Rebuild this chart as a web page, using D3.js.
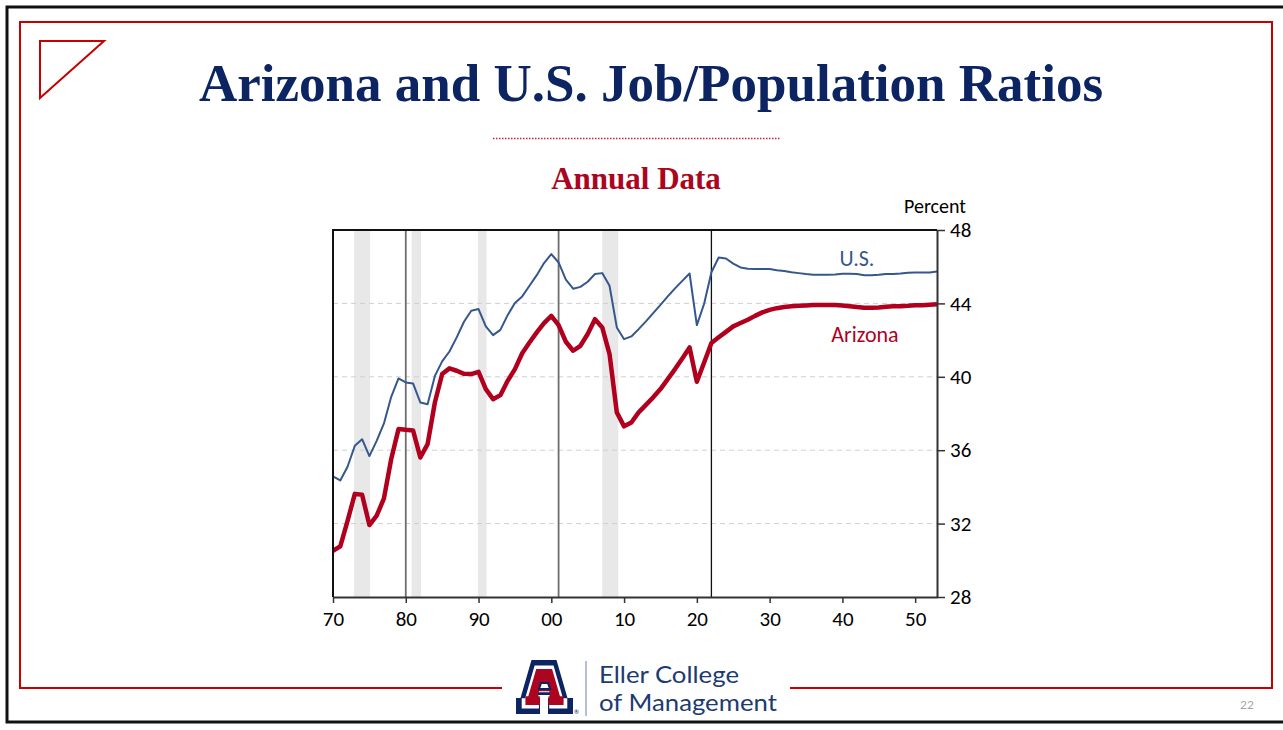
<!DOCTYPE html>
<html>
<head>
<meta charset="utf-8">
<script src="https://cdn.jsdelivr.net/npm/d3@7"></script>
<style>
  body { margin: 0; background: #fff; }
  svg { display: block; }
  .tick text { font-family: Carlito, Lato, sans-serif; font-size: 21px; fill: #000; }
</style>
</head>
<body>
<div id="chart"></div>
<script>
// Years on the x axis (annual data, history + forecast)
const years = d3.range(1970, 2054);

// Employment / population ratio, percent
const usValues = [
  34.57, 34.35, 35.10, 36.24, 36.60, 35.68, 36.51, 37.46, 38.91, 39.91,
  39.69, 39.64, 38.60, 38.50, 40.05, 40.84, 41.38, 42.15, 43.00, 43.60,
  43.69, 42.75, 42.27, 42.56, 43.36, 44.02, 44.38, 44.96, 45.54, 46.20,
  46.69, 46.23, 45.29, 44.80, 44.90, 45.18, 45.60, 45.65, 44.96, 42.69,
  42.05, 42.20, 42.60, 43.02, 43.47, 43.92, 44.38, 44.82, 45.23, 45.63,
  42.82, 43.98, 45.70, 46.50, 46.45, 46.17, 45.96, 45.89, 45.87, 45.87,
  45.87, 45.81, 45.76, 45.70, 45.65, 45.60, 45.56, 45.56, 45.56, 45.58,
  45.62, 45.62, 45.60, 45.54, 45.54, 45.56, 45.60, 45.60, 45.63, 45.67,
  45.69, 45.69, 45.69, 45.74
];

const azValues = [
  30.52, 30.76, 32.15, 33.62, 33.57, 31.92, 32.43, 33.37, 35.52, 37.15,
  37.11, 37.08, 35.60, 36.33, 38.60, 40.15, 40.46, 40.33, 40.16, 40.15,
  40.27, 39.33, 38.78, 39.00, 39.78, 40.42, 41.28, 41.87, 42.42, 42.93,
  43.32, 42.82, 41.91, 41.42, 41.69, 42.33, 43.14, 42.69, 41.24, 38.06,
  37.30, 37.51, 38.06, 38.47, 38.88, 39.33, 39.87, 40.42, 41.00, 41.60,
  39.73, 40.78, 41.84, 42.15, 42.45, 42.75, 42.93, 43.11, 43.32, 43.51,
  43.65, 43.74, 43.80, 43.84, 43.87, 43.89, 43.91, 43.91, 43.91, 43.91,
  43.89, 43.85, 43.80, 43.76, 43.76, 43.78, 43.82, 43.84, 43.85, 43.87,
  43.90, 43.90, 43.93, 43.95
];

// Recession shading (start, end in fractional years)
const recessions = [[1972.9, 1975.1], [1980.8, 1982.1], [1989.9, 1991.1], [2007.0, 2009.2]];

// Vertical marker lines
const markerYears = [1980, 2001, 2022];

// Tick labels
const xTicks = [1970, 1980, 1990, 2000, 2010, 2020, 2030, 2040, 2050];
const yTicks = [28, 32, 36, 40, 44, 48];
const gridValues = [32, 36, 40, 44];

const width = 1283, height = 730;
const navy = "#0C2461";
const crimson = "#AB0520";
const frameRed = "#C80000";

const svg = d3.select("#chart")
  .append("svg")
  .attr("width", width)
  .attr("height", height);

// Slide borders
svg.append("path")
  .attr("d", "M1295,7 L7,7 L7,722 L1295,722")
  .attr("fill", "none")
  .attr("stroke", "#111")
  .attr("stroke-width", 3);

svg.append("path")
  .attr("d", "M502,688 L20,688 L20,22 L1272,22 L1272,688 L790,688")
  .attr("fill", "none")
  .attr("stroke", frameRed)
  .attr("stroke-width", 2);

// Corner triangle
svg.append("path")
  .attr("d", "M40,41 L104,41 L40,98 Z")
  .attr("fill", "none")
  .attr("stroke", frameRed)
  .attr("stroke-width", 2);

// Title
svg.append("text")
  .attr("x", 651)
  .attr("y", 101)
  .attr("text-anchor", "middle")
  .style("font-family", "'Liberation Serif', 'Times New Roman', serif")
  .style("font-weight", "bold")
  .style("font-size", "53px")
  .attr("fill", navy)
  .text("Arizona and U.S. Job/Population Ratios");

// Dotted separator
svg.append("line")
  .attr("x1", 493).attr("x2", 780)
  .attr("y1", 138.5).attr("y2", 138.5)
  .attr("stroke", "#D0203A")
  .attr("stroke-width", 1.5)
  .attr("stroke-dasharray", "1.5,1.5");

svg.append("text")
  .attr("x", 636)
  .attr("y", 189)
  .attr("text-anchor", "middle")
  .style("font-family", "'Liberation Serif', 'Times New Roman', serif")
  .style("font-weight", "bold")
  .style("font-size", "31px")
  .attr("fill", crimson)
  .text("Annual Data");

// Scales
let xScale = d3.scaleLinear().domain([1970, 2053]).range([333, 937]);
let yScale = d3.scaleLinear().domain([28, 48]).range([597, 230]);

// Recession bands
svg.selectAll(".band")
  .data(recessions)
  .enter().append("rect")
  .attr("class", "band")
  .attr("x", d => xScale(d[0]))
  .attr("width", d => xScale(d[1]) - xScale(d[0]))
  .attr("y", yScale(48))
  .attr("height", yScale(28) - yScale(48))
  .attr("fill", "#E8E8E8");

// Horizontal gridlines
svg.selectAll(".grid")
  .data(gridValues)
  .enter().append("line")
  .attr("class", "grid")
  .attr("x1", xScale(1970)).attr("x2", xScale(2053))
  .attr("y1", d => yScale(d)).attr("y2", d => yScale(d))
  .attr("stroke", "#CFCFCF")
  .attr("stroke-width", 1)
  .attr("stroke-dasharray", "5,4");

// Vertical marker lines
svg.selectAll(".marker")
  .data(markerYears)
  .enter().append("line")
  .attr("class", "marker")
  .attr("x1", d => xScale(d)).attr("x2", d => xScale(d))
  .attr("y1", yScale(48)).attr("y2", yScale(28))
  .attr("stroke", (d, i) => i < 2 ? "#6E6E6E" : "#111")
  .attr("stroke-width", (d, i) => i < 2 ? 1.8 : 1.3);

// Lines
let line = d3.line()
  .x((d, i) => xScale(years[i]))
  .y(d => yScale(d));

svg.append("path")
  .datum(usValues)
  .attr("d", line)
  .attr("fill", "none")
  .attr("stroke", "#36578C")
  .attr("stroke-width", 2)
  .attr("stroke-linejoin", "round");

svg.append("path")
  .datum(azValues)
  .attr("d", line)
  .attr("fill", "none")
  .attr("stroke", "#B0001E")
  .attr("stroke-width", 4.5)
  .attr("stroke-linejoin", "round");

// Frame: left and top edges
svg.append("path")
  .attr("d", `M${xScale(1970)},${yScale(28)} L${xScale(1970)},${yScale(48)} L${xScale(2053)},${yScale(48)}`)
  .attr("fill", "none")
  .attr("stroke", "#111")
  .attr("stroke-width", 2);

// Right axis
let yAxis = svg.append("g")
  .attr("transform", `translate(${xScale(2053)},0)`)
  .call(d3.axisRight(yScale).tickValues(yTicks).tickSize(8).tickPadding(5).tickSizeOuter(0));
yAxis.select(".domain").attr("stroke", "#333").attr("stroke-width", 2);
yAxis.selectAll(".tick line").attr("stroke", "#333").attr("stroke-width", 1.5);

// Bottom axis
let xAxis = svg.append("g")
  .attr("transform", `translate(0,${yScale(28)})`)
  .call(d3.axisBottom(xScale).tickValues(xTicks).tickSize(6).tickPadding(8).tickSizeOuter(0)
    .tickFormat(d => String(d % 100).padStart(2, "0")));
xAxis.select(".domain").attr("stroke", "#333").attr("stroke-width", 2);
xAxis.selectAll(".tick line").attr("stroke", "#333").attr("stroke-width", 1.5);

// Unit label
svg.append("text")
  .attr("x", 966)
  .attr("y", 213)
  .attr("text-anchor", "end")
  .style("font-family", "Carlito, Lato, sans-serif")
  .style("font-size", "20px")
  .attr("fill", "#000")
  .text("Percent");

// Series labels
svg.append("text")
  .attr("x", xScale(2042))
  .attr("y", yScale(46.04))
  .attr("text-anchor", "middle")
  .style("font-family", "Carlito, Lato, sans-serif")
  .style("font-size", "22px")
  .attr("fill", "#36578C")
  .text("U.S.");

svg.append("text")
  .attr("x", xScale(2043.1))
  .attr("y", yScale(41.9))
  .attr("text-anchor", "middle")
  .style("font-family", "Carlito, Lato, sans-serif")
  .style("font-size", "22px")
  .attr("fill", "#B0001E")
  .text("Arizona");

// Logo: block A
const logo = svg.append("g").attr("transform", "translate(518,662)");
const aShape = "M15,0 L37,0 L48,38 L53,38 L53,50 L32,50 L32,38 L35,38 L33,31 L19,31 L17,38 L20,38 L20,50 L0,50 L0,38 L4,38 Z";
logo.append("path").attr("d", aShape)
  .attr("fill", navy).attr("stroke", navy).attr("stroke-width", 4).attr("stroke-linejoin", "miter");
logo.append("path").attr("d", aShape)
  .attr("fill", "#fff").attr("transform", "translate(26.5,25) scale(0.86) translate(-26.5,-25)");
logo.append("path").attr("d", aShape)
  .attr("fill", crimson).attr("transform", "translate(26.5,25) scale(0.72) translate(-26.5,-25)");
logo.append("path")
  .attr("d", "M23,21 L30,21 L32,27 L21,27 Z")
  .attr("fill", "#fff").attr("stroke", navy).attr("stroke-width", 2);
logo.append("text")
  .attr("x", 56).attr("y", 52)
  .style("font-family", "Lato, sans-serif")
  .style("font-size", "6px")
  .attr("fill", navy)
  .text("®");

svg.append("line")
  .attr("x1", 586).attr("x2", 586)
  .attr("y1", 661).attr("y2", 716)
  .attr("stroke", "#9AAAC4")
  .attr("stroke-width", 1.5);

// Wordmark, slightly widened to match the logo lettering
let wordmark = svg.append("g")
  .attr("transform", "translate(599,0) scale(1.12,1)")
  .style("font-family", "Lato, sans-serif")
  .style("font-size", "23px")
  .attr("fill", "#1D3B72");
wordmark.append("text").attr("x", 0).attr("y", 683).text("Eller College");
wordmark.append("text").attr("x", 0).attr("y", 711).text("of Management");

// Page number
svg.append("text")
  .attr("x", 1247).attr("y", 709)
  .attr("text-anchor", "middle")
  .style("font-family", "Lato, sans-serif")
  .style("font-size", "12px")
  .attr("fill", "#A6A6A6")
  .text("22");
</script>
</body>
</html>
